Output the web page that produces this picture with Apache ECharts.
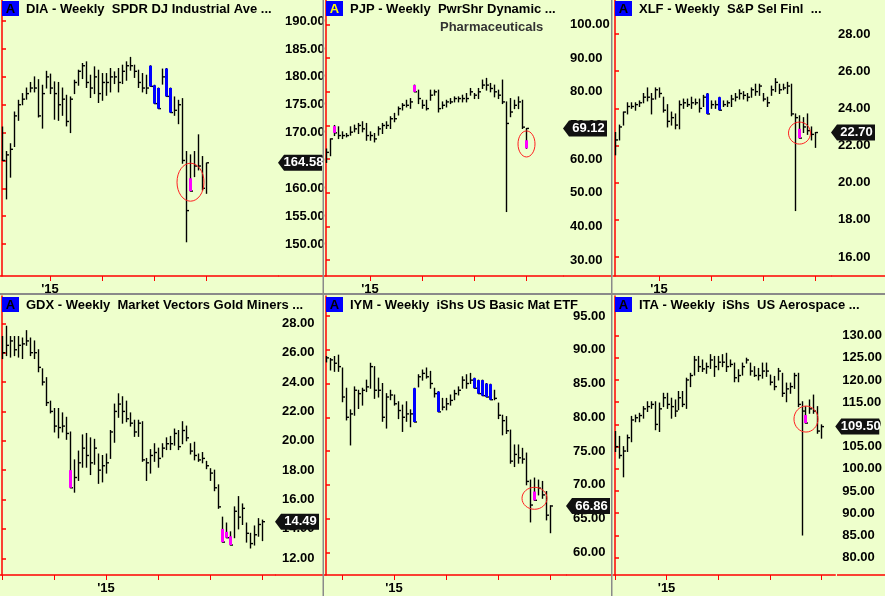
<!DOCTYPE html>
<html><head><meta charset="utf-8">
<script src="https://cdn.jsdelivr.net/npm/echarts@6/dist/echarts.min.js"></script>
<style>html,body{margin:0;padding:0;background:#eeffcc}#c{width:885px;height:596px}</style>
</head><body><div id="c"></div>
<script>
// ---------- DATA ----------
const diaH=[171,166.6,168,173.7,175.8,177,178,179,180,179.5,178.5,181,180.5,179.1,179,178,176.7,176.4,179.4,181.2,182.4,182.7,180.3,181.8,181.2,180.6,180.6,181.5,180.9,181.5,182.1,182.7,183.5,182.1,181.2,180.6,180.3,182,178.5,178,181.4,181.5,178,176.4,175.8,176.1,166.6,166,166.6,169.6,165.7,164.5];
const diaL=[165,158.1,162,167.5,172.2,175,176,177.3,177.3,172.8,170.8,178,177,172.4,172.2,173.1,171.2,170,177,178.5,179.7,178.1,176.3,177,175.4,175.8,176.7,177.3,178.8,177.3,178.8,179.4,181.2,179.9,178.1,177.3,177,178.3,175.2,174.3,178.7,176.5,173.6,173.1,171.6,164.5,150.4,159.5,162.1,163.3,159.7,159.1];
const diaC=[165,166,167,173,175,176,177,178,178,173,177,180,178,177,175,176,172,176,179,181,182,179,178,180,177,179,179,180,180,179,181,182,182,181,179,178,178,178.3,175.2,174.3,180,176.5,173.6,174,175,165,156,159.5,164,164,160,164.58];
const diaMarks=[[37,182,178.3,'b'],[38,178.5,175.2,'b'],[39,178,174.3,'b'],[41,181.5,176.5,'b'],[42,178,173.6,'b'],[47,161.8,159.5,'m']];
const diaCircle=[47,161.1];
const diaYTicks=[150,155,160,165,170,175,180,185,190];

const pjpH=[63,66,70,69.6,68.1,67.6,69.6,70.1,70.6,71.1,70.6,68.1,67.6,69.6,70.6,71.1,72.6,73.6,75.5,76.5,77.5,78,82,80.5,77.5,77.5,80.5,80.5,80.5,77,77.5,78,78.5,78.5,79,79.5,81,79.5,81,83.5,84,82.5,82,80.5,83.5,77,78,77.5,78.5,77.5,69.1];
const pjpL=[59,61,67,66.1,66.1,66.6,67.1,68.1,67.6,68.1,65.6,65.6,65.1,67.1,67.6,69.1,69.1,71.1,73.1,74.6,75.5,75.1,80,76.5,75.1,74.6,77.5,79,74,75,75.5,76.5,77,77,77,77,79,78,78,81,80.5,80,78.5,78,76.5,44.4,72.6,75,75,69.1,63.2];
const pjpC=[62,66,67.8,67,67,67,68,69,70,69,67,67,66,69,70,70,72,72,75,76,76,77,80,78,76,75,79,80,75,76,77,77,78,78,78,78,80,79,80,82,82,81,80,79,77,70.6,74,76,77,69.5,69.12];
const pjpMarks=[[2,69.8,67.8,'m'],[22,82,80,'m'],[50,65.6,63.2,'m']];
const pjpCircle=[50,64.5];
const pjpYTicks=[30,40,50,60,70,80,90,100];

const xlfH=[22.7,23.1,23.8,24.3,24.3,24.3,24.4,24.8,25.1,24.8,25.1,25.1,24.6,24.2,23.8,23.7,24.4,24.5,24.5,24.6,24.5,24.5,24.7,24.8,24.4,24.4,24.6,24.4,24.4,24.7,24.8,25,24.9,24.8,25.1,25.3,25.3,24.8,24.6,25.2,25.6,25.3,25.3,25.4,25.3,23.7,23.6,23.5,23.7,23,22.7];
const xlfL=[21.5,22.3,23.1,23.7,24,23.9,24.1,24.3,24.4,23.7,24.5,24.6,23.8,23,23.1,22.9,22.9,24,24.1,24,24.2,23.8,24.1,23.7,24,24,23.9,24.1,24.1,24.1,24.4,24.5,24.5,24.4,24.6,24.7,24.7,24.4,24.1,24.7,24.9,24.8,25,24.8,23.6,18.5,22.4,22.7,22.6,22.3,21.9];
const xlfC=[22.3,23,23.8,24.1,24.1,24.2,24.3,24.6,24.6,24.5,25,24.8,23.9,23.3,23.5,23.1,24.2,24.3,24.2,24.3,24.3,24,24.6,23.7,24.2,24.2,23.9,24.2,24.3,24.5,24.6,24.8,24.7,24.6,25,24.9,25.2,24.5,24.3,25,25.4,25,25.1,25.2,23.7,23.5,22.4,23,22.8,22.6,22.7];
const xlfMarks=[[23,24.8,23.7,'b'],[26,24.6,23.9,'b'],[46,22.9,22.4,'m']];
const xlfCircle=[46,22.67];
const xlfYTicks=[16,18,20,22,24,26,28];

const gdxH=[27.1,27.8,27.1,27.1,27.1,27,27.5,27,26.8,26.2,24.9,24.3,22.7,22.2,22.2,21.9,21.6,20.6,18.7,19.3,20.4,20.5,20.2,20.1,19.1,19,19.1,20.7,22.5,23.2,23,22.7,21.9,21.4,21.4,21.3,18.8,19.4,19.8,19.5,19.8,20.2,20.3,20.8,20.7,21.3,21,19.8,19.9,19.1,19.2,18.6,18.1,18,17,14.8,14.4,13.8,15.5,16.2,15.7,14.4,13.7,14.2,14.7,14.6];
const gdxL=[25.6,25.8,25.7,25.8,25.7,25.6,26.5,25.8,25.6,24.7,23.8,22.4,21.9,20.6,20.2,20.6,20.1,16.8,16.5,17.3,18.2,18.2,17.7,18.4,17.1,17.2,17.8,18.8,19.9,21.6,21.2,21.3,21,20.3,20.3,18.6,17.3,17.8,18.6,18.2,18.9,19.4,19.4,19.7,19.4,19.8,20,19.1,18.7,18.6,18.5,18.1,17.3,16.6,15.4,13.1,13.4,12.9,13.4,14,14.3,13.1,12.7,12.9,13.5,13.2];
const gdxC=[26,26.5,26.8,26.2,26.5,26.6,26.8,26,26,25,24,22.6,22,21,20.9,21,20.5,16.8,17.5,18.5,19.5,19,18.5,19.5,18,18.3,18.5,20.6,22,22.5,22,21.5,21.2,20.6,21.2,18.7,18.5,19,19.2,18.8,19.5,19.8,19.8,20.5,19.6,20.7,20.2,19.3,19,18.7,18.8,18.3,17.8,16.8,15.5,13.1,13.4,12.9,15.2,14.8,15.4,13.7,13,13.6,14.3,14.49];
const gdxMarks=[[17,18,16.8,'m'],[55,14,13.1,'m'],[56,13.8,13.4,'m'],[57,13.5,12.9,'m']];
const gdxCircle=null;
const gdxYTicks=[12,14,16,18,20,22,24,26,28];

const iymH=[89,88.7,89,89.2,87.3,84.3,81.1,84.5,84,84.3,85.5,88,87.5,85.8,85,83.5,84,83.3,82.3,81.8,82.3,81.1,84.3,86.3,87,87.3,86.8,84.3,83.8,82.8,82.8,83.3,84,84.5,86,86.3,86.5,85.8,85.5,85.5,85,84.9,84,82.1,80.3,80.1,78.1,75.9,75.9,75.4,74.7,70.7,71,70.7,70.5,69,66.9];
const iymL=[88.2,87,86.8,86.8,82.3,79.6,75.9,80.3,81.3,81.8,83.8,84.3,82.8,83,79.4,78.4,82.6,81.8,79.8,77.9,79.4,78.6,79.3,84.5,85.5,85.8,84.3,83,80.8,81.1,81.1,81.8,82.6,83.3,84.3,84.3,85,84.3,83.5,83.2,83,82.6,82.6,79.8,77.4,77.6,73.2,72.7,73.2,73.2,70,64.5,67.7,68.5,68,64.8,62.9];
const iymC=[88.8,88.5,88,87.5,83,80,80.5,84,83.5,84,84.5,87.5,84,84,80,83,83.3,82,81,80,80.5,80.5,79.3,86,86.5,86,85,83.5,80.8,81.5,82,82.5,83.5,84,85.5,85,85.5,84.3,83.5,83.2,83,82.6,82.8,80.3,79.5,78,73.5,74.5,74,73.8,70.5,67,67.7,69.5,68.5,65.5,66.86];
const iymMarks=[[22,84.3,79.3,'b'],[28,83.8,80.8,'b'],[37,85.8,84.3,'b'],[38,85.5,83.5,'b'],[39,85.5,83.2,'b'],[40,85,83,'b'],[41,84.9,82.6,'b'],[52,69,67.7,'m']];
const iymCircle=[52,68];
const iymYTicks=[60,65,70,75,80,85,90,95];

const itaH=[108.4,107.3,105,107.6,111.8,112.1,112.5,114,115.1,115.1,115.1,114.8,117,117,115.9,115.5,117.4,117.4,120.4,121.5,125.3,125.3,124.5,123.8,125.7,125.3,125.3,125.7,126,124.5,123.8,122.3,123.8,124.9,123.8,123,122.6,123.8,123.8,121.1,120.8,122.6,121.5,119.3,119.3,121.5,121.5,115.1,114,115.5,116.6,114,109.9];
const itaL=[103.9,102.4,98.2,103.9,106.1,110.6,110.6,111.4,112.9,113.6,108.8,108.4,114,113.6,111.4,111.8,113.3,114,113.6,118.5,121.1,121.9,121.9,121.5,122.6,120.8,122.3,123,121.9,123,119.6,119.6,121.1,123.8,121.1,120.8,120,120.4,120.8,118.9,117.8,120,116.3,115.1,117,118.1,114,85.1,110.3,112.5,112.5,108,106.9];
const itaC=[105,103,104,107,111,111.5,112,113.5,114,114.5,110,113.5,116,114.5,114,113,116,114.5,120,121,124.5,123,122.5,123,124.5,123,124,124,123,123.5,120.5,121,123,124.5,122,121,121,122,122,119.5,118.5,122,117,118,118.5,121,114.5,113,110.3,113.5,113,108.5,109.5];
const itaMarks=[[48,112.1,110.3,'m']];
const itaCircle=[48,111.2];
const itaYTicks=[80,85,90,95,100,105,110,115,120,125,130];

const titles=['DIA - Weekly  SPDR DJ Industrial Ave ...','PJP - Weekly  PwrShr Dynamic ...','XLF - Weekly  S&P Sel Finl  ...','GDX - Weekly  Market Vectors Gold Miners ...','IYM - Weekly  iShs US Basic Mat ETF','ITA - Weekly  iShs  US Aerospace ...'];
const xTickIdx=[[12,25,38,51],[11,24,37,50],[11,24,37,50],[0,13,26,39,52,65],[4,17,30,43,56],[0,13,26,39,52]];
const xLabelIdx=[12,11,11,26,17,13];

// ---------- LAYOUT ----------
const panels=[
 {H:diaH,L:diaL,C:diaC,M:diaMarks,O:diaCircle,Y:diaYTicks,left:0,top:0,w:278,h:276,ymin:144.26,ymax:193.8,rx:13.5,ry:19,pl:0,pr:323,aColor:'#000'},
 {H:pjpH,L:pjpL,C:pjpC,M:pjpMarks,O:pjpCircle,Y:pjpYTicks,left:324,top:0,w:239,h:276,ymin:25.24,ymax:107.3,rx:8.5,ry:13,pl:324,pr:611,aColor:'#ffff00'},
 {H:xlfH,L:xlfL,C:xlfC,M:xlfMarks,O:xlfCircle,Y:xlfYTicks,left:613,top:0,w:218,h:276,ymin:14.98,ymax:29.83,rx:11,ry:11,pl:613,pr:885,aColor:'#000'},
 {H:gdxH,L:gdxL,C:gdxC,M:gdxMarks,O:gdxCircle,Y:gdxYTicks,left:0,top:296,w:275,h:279,ymin:10.86,ymax:29.86,rx:0,ry:0,pl:0,pr:323,aColor:'#000'},
 {H:iymH,L:iymL,C:iymC,M:iymMarks,O:iymCircle,Y:iymYTicks,left:324,top:296,w:242,h:279,ymin:56.64,ymax:97.96,rx:12.5,ry:11,pl:324,pr:611,aColor:'#000'},
 {H:itaH,L:itaL,C:itaC,M:itaMarks,O:itaCircle,Y:itaYTicks,left:613,top:296,w:224,h:279,ymin:76.1,ymax:138.9,rx:12,ry:13,pl:613,pr:885,aColor:'#000'}
];
const FONT='Liberation Sans';
const RED='#ff0000';
const grid=[],xAxis=[],yAxis=[],series=[],graphic=[];
panels.forEach((p,k)=>{
  grid.push({left:p.left,top:p.top,width:p.w,height:p.h,containLabel:false});
  xAxis.push({type:'value',gridIndex:k,min:-0.5,max:p.w/4-0.5,
    axisLine:{show:true,onZero:false,lineStyle:{color:RED,width:1.5}},
    axisTick:{show:true,customValues:xTickIdx[k],length:5,lineStyle:{color:RED,width:1}},
    axisLabel:{show:true,customValues:[xLabelIdx[k]],formatter:()=>"'15",color:'#000',fontWeight:'bold',fontSize:13,fontFamily:FONT,margin:7},
    splitLine:{show:false}});
  yAxis.push({type:'value',gridIndex:k,position:'right',min:p.ymin,max:p.ymax,
    axisLine:{show:true,lineStyle:{color:RED,width:1.5}},
    axisTick:{show:true,customValues:p.Y,length:4,lineStyle:{color:RED,width:1.5}},
    axisLabel:{show:true,customValues:p.Y,formatter:v=>v.toFixed(2),color:'#000',fontWeight:'bold',fontSize:13,fontFamily:FONT,margin:7},
    splitLine:{show:false}});
  const bars=p.H.map((h,i)=>[i,h,p.L[i],p.C[i]]);
  series.push({type:'custom',xAxisIndex:k,yAxisIndex:k,data:bars,silent:true,animation:false,
    renderItem:(params,api)=>{
      const i=api.value(0);
      const a=api.coord([i,api.value(1)]),b=api.coord([i,api.value(2)]),c=api.coord([i,api.value(3)]);
      const x=Math.round(a[0])+0.5;
      return {type:'group',children:[
        {type:'line',shape:{x1:x,y1:a[1]-0.5,x2:x,y2:b[1]+0.5},style:{stroke:'#000',lineWidth:1.4}},
        {type:'line',shape:{x1:x,y1:c[1],x2:x+2.5,y2:c[1]},style:{stroke:'#000',lineWidth:1.4}}]};
    }});
  series.push({type:'custom',xAxisIndex:k,yAxisIndex:k,data:p.M.map(m=>[m[0],m[1],m[2],m[3]==='b'?0:1]),silent:true,animation:false,
    renderItem:(params,api)=>{
      const i=api.value(0);
      const a=api.coord([i,api.value(1)]),b=api.coord([i,api.value(2)]);
      const x=Math.round(a[0])+0.5;
      return {type:'rect',shape:{x:x-1.5,y:a[1],width:3,height:b[1]-a[1]},style:{fill:api.value(3)?'#ff00ff':'#0000ff'}};
    }});
  if(p.O){
    series.push({type:'custom',xAxisIndex:k,yAxisIndex:k,data:[p.O],silent:true,animation:false,
      renderItem:(params,api)=>{
        const c=api.coord([api.value(0),api.value(1)]);
        return {type:'ellipse',shape:{cx:c[0]+0.5,cy:c[1],rx:p.rx,ry:p.ry},style:{fill:'none',stroke:'#ff2020',lineWidth:1}};
      }});
  }
  const li=p.C.length-1;
  series.push({type:'custom',xAxisIndex:k,yAxisIndex:k,data:[[li,p.C[li]]],silent:true,animation:false,clip:false,z:20,
    renderItem:(params,api)=>{
      const cs=params.coordSys;
      const y=api.coord([api.value(0),api.value(1)])[1];
      const x0=cs.x+cs.width;
      return {type:'group',children:[
        {type:'polygon',shape:{points:[[x0,y],[x0+6,y-8],[x0+44,y-8],[x0+44,y+8],[x0+6,y+8]]},style:{fill:'#111'}},
        {type:'text',style:{x:x0+25.5,y:y,text:api.value(1).toFixed(2),fill:'#fff',font:'bold 13px '+FONT,align:'center',verticalAlign:'middle'}}]};
    }});
  graphic.push({type:'rect',shape:{x:p.pl+2,y:p.top+1,width:17,height:15},style:{fill:'#0000ff'},z:10});
  graphic.push({type:'text',style:{x:p.pl+10.5,y:p.top+9,text:'A',fill:p.aColor,font:'bold 13px '+FONT,align:'center',verticalAlign:'middle'},z:11});
  graphic.push({type:'text',style:{x:p.pl+26,y:p.top+9,text:titles[k],fill:'#000',font:'bold 13px '+FONT,verticalAlign:'middle'},z:11});
  graphic.push({type:'line',shape:{x1:p.left+p.w,y1:p.top+p.h,x2:p.pr,y2:p.top+p.h},style:{stroke:RED,lineWidth:1.5},z:5});
});
graphic.push({type:'text',style:{x:440,y:27,text:'Pharmaceuticals',fill:'#333',font:'bold 13px '+FONT,verticalAlign:'middle'},z:11});
graphic.push({type:'rect',shape:{x:322.5,y:0,width:1.5,height:596},style:{fill:'#8a8a8a'},z:12});
graphic.push({type:'rect',shape:{x:611,y:0,width:1.5,height:596},style:{fill:'#8a8a8a'},z:12});
graphic.push({type:'rect',shape:{x:0,y:293,width:885,height:2},style:{fill:'#8a8a8a'},z:12});

const chart=echarts.init(document.getElementById('c'));
chart.setOption({backgroundColor:'#eeffcc',animation:false,grid,xAxis,yAxis,series,graphic});
</script></body></html>
